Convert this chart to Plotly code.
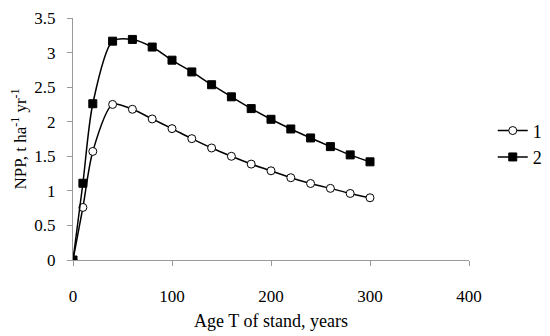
import plotly.graph_objects as go

age = [0, 10, 20, 40, 60, 80, 100, 120, 140, 160, 180, 200, 220, 240, 260, 280, 300]
npp_1 = [0, 0.76, 1.57, 2.25, 2.18, 2.04, 1.90, 1.755, 1.62, 1.50, 1.387, 1.29, 1.19, 1.106, 1.036, 0.962, 0.90]
npp_2 = [0, 1.11, 2.26, 3.165, 3.19, 3.08, 2.89, 2.72, 2.535, 2.36, 2.19, 2.035, 1.895, 1.765, 1.64, 1.52, 1.42]
x_ticks = [0, 100, 200, 300, 400]
y_ticks = [0, 0.5, 1, 1.5, 2, 2.5, 3, 3.5]
y_tick_text = ["0", "0.5", "1", "1.5", "2", "2.5", "3", "3.5"]

font = "Liberation Serif, Times New Roman, serif"

fig = go.Figure()
fig.add_trace(go.Scatter(
    x=age, y=npp_1, name="1", mode="lines+markers",
    line=dict(color="black", width=1.5, shape="spline", smoothing=0.8),
    marker=dict(symbol="circle", size=8, color="white", line=dict(color="black", width=1)),
))
fig.add_trace(go.Scatter(
    x=age, y=npp_2, name="2", mode="lines+markers",
    line=dict(color="black", width=1.5, shape="spline", smoothing=0.8),
    marker=dict(symbol="square", size=8, color="black", line=dict(color="black", width=1)),
))

fig.update_layout(
    width=550, height=336,
    margin=dict(l=65, r=89, t=10, b=84, autoexpand=False),
    paper_bgcolor="white", plot_bgcolor="white",
    font=dict(family=font, size=17, color="black"),
    showlegend=True,
    legend=dict(x=1.06, y=0.48, xanchor="left", yanchor="middle",
                font=dict(family=font, size=18), bgcolor="rgba(0,0,0,0)",
                itemwidth=30),
    xaxis=dict(range=[0, 400], tickvals=x_ticks, showgrid=False, zeroline=False,
               showline=True, linecolor="#999", linewidth=1,
               ticks="outside", ticklen=5, tickcolor="#999", ticklabelstandoff=16,
               ticklabeloverflow="allow", automargin=False,
               title=dict(text="Age T of stand, years", font=dict(size=18), standoff=8)),
    yaxis=dict(range=[0, 3.5], tickvals=y_ticks, ticktext=y_tick_text, showgrid=False, zeroline=False,
               showline=True, linecolor="#999", linewidth=1,
               ticks="outside", ticklen=5, tickcolor="#999", ticklabelstandoff=8,
               ticklabeloverflow="allow", automargin=False,
               title=dict(text="NPP, t ha<sup>-1</sup> yr<sup>-1</sup>", font=dict(size=17), standoff=8)),
)

fig.write_html("out.html")
